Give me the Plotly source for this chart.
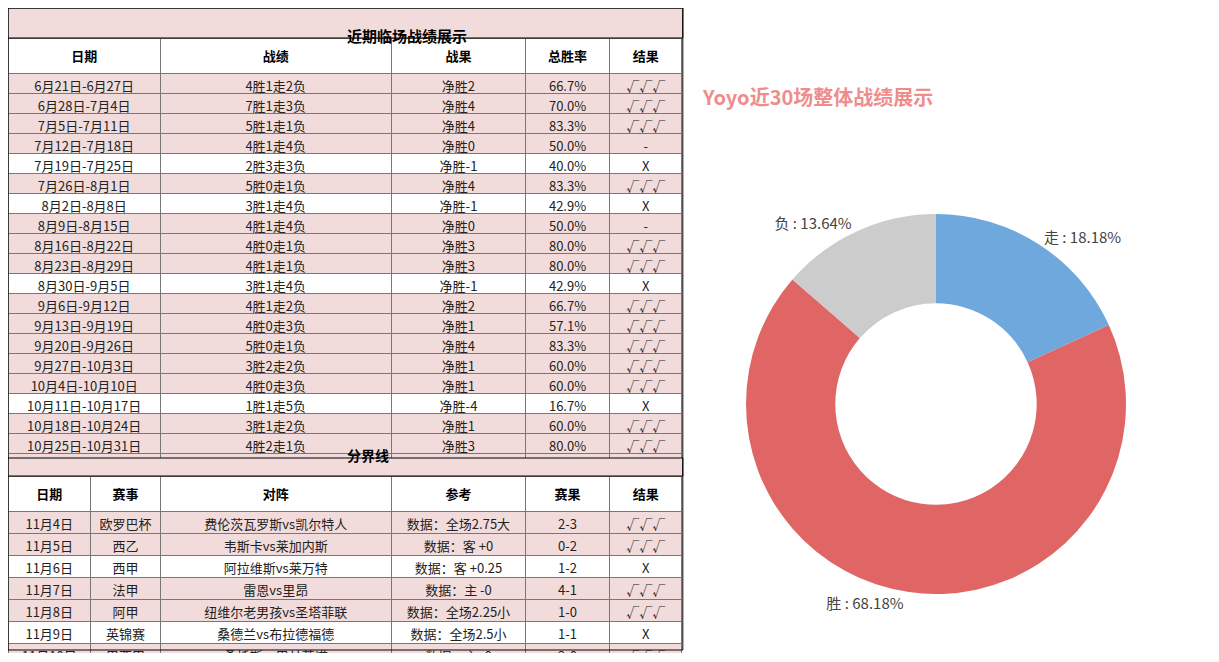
import plotly.graph_objects as go

W, H = 1211, 646
dates = ["6月21日-6月27日","6月28日-7月4日","7月5日-7月11日","7月12日-7月18日","7月19日-7月25日",
         "7月26日-8月1日","8月2日-8月8日","8月9日-8月15日","8月16日-8月22日","8月23日-8月29日",
         "8月30日-9月5日","9月6日-9月12日","9月13日-9月19日","9月20日-9月26日","9月27日-10月3日",
         "10月4日-10月10日","10月11日-10月17日","10月18日-10月24日","10月25日-10月31日","11月1日-11月7日"]
records = ["4胜1走2负","7胜1走3负","5胜1走1负","4胜1走4负","2胜3走3负","5胜0走1负","3胜1走4负","4胜1走4负",
           "4胜0走1负","4胜1走1负","3胜1走4负","4胜1走2负","4胜0走3负","5胜0走1负","3胜2走2负","4胜0走3负",
           "1胜1走5负","3胜1走2负","4胜2走1负","4胜0走3负"]
nets = ["净胜2","净胜4","净胜4","净胜0","净胜-1","净胜4","净胜-1","净胜0","净胜3","净胜3","净胜-1","净胜2",
        "净胜1","净胜4","净胜1","净胜1","净胜-4","净胜1","净胜3","净胜1"]
rates = ["66.7%","70.0%","83.3%","50.0%","40.0%","83.3%","42.9%","50.0%","80.0%","80.0%","42.9%","66.7%",
         "57.1%","83.3%","60.0%","60.0%","16.7%","60.0%","80.0%","57.1%"]
results1 = ["√√√","√√√","√√√","-","X","√√√","X","-","√√√","√√√","X","√√√","√√√","√√√","√√√","√√√","X",
            "√√√","√√√","√√√"]

m_dates = ["11月4日","11月5日","11月6日","11月7日","11月8日","11月9日","11月10日"]
m_leagues = ["欧罗巴杯","西乙","西甲","法甲","阿甲","英锦赛","巴西甲"]
m_matches = ["费伦茨瓦罗斯vs凯尔特人","韦斯卡vs莱加内斯","阿拉维斯vs莱万特","雷恩vs里昂","纽维尔老男孩vs圣塔菲联",
             "桑德兰vs布拉德福德","桑托斯vs巴甘蒂诺"]
m_refs = ["数据：全场2.75大","数据：客 +0","数据：客 +0.25","数据：主 -0","数据：全场2.25小","数据：全场2.5小","数据：主 -0"]
m_scores = ["2-3","0-2","1-2","4-1","1-0","1-1","2-0"]
m_results = ["√√√","√√√","X","√√√","√√√","X","√√√"]

pie_labels = ["走", "胜", "负"]
pie_values = [4, 15, 3]
pie_colors = ["#6FA8DC", "#E06666", "#CCCCCC"]

PINK = "#F2DCDB"
FONT = "Noto Sans CJK SC"
TX0, TX1 = 0, 681

def px(x0, x1, y0, y1):
    return dict(x=[x0 / W, x1 / W], y=[1 - y1 / H, 1 - y0 / H])

def fills(res, ncol):
    col = [("white" if r == "X" else PINK) for r in res]
    return [col] * ncol

fig = go.Figure()
fig.add_trace(go.Table(
    domain=px(TX0, TX1, 30, 451),
    columnwidth=[155, 235, 137, 85, 74],
    header=dict(values=["<b>日期</b>", "<b>战绩</b>", "<b>战果</b>", "<b>总胜率</b>", "<b>结果</b>"],
                height=20, fill_color="white", line=dict(color="#777", width=1),
                font=dict(family=FONT, size=13, color="black"), align="center"),
    cells=dict(values=[dates, records, nets, rates, results1], height=20,
               fill_color=fills(results1, 5), line=dict(color="#777", width=1),
               font=dict(family=FONT, size=13, color="#222"), align="center"),
))
fig.add_trace(go.Table(
    domain=px(TX0, TX1, 468, 646),
    columnwidth=[84, 71, 235, 137, 85, 74],
    header=dict(values=["<b>日期</b>", "<b>赛事</b>", "<b>对阵</b>", "<b>参考</b>", "<b>赛果</b>", "<b>结果</b>"],
                height=20, fill_color="white", line=dict(color="#777", width=1),
                font=dict(family=FONT, size=13, color="black"), align="center"),
    cells=dict(values=[m_dates, m_leagues, m_matches, m_refs, m_scores, m_results], height=22,
               fill_color=fills(m_results, 6), line=dict(color="#777", width=1),
               font=dict(family=FONT, size=13, color="#222"), align="center"),
))
fig.add_trace(go.Pie(
    labels=pie_labels, values=pie_values, hole=0.53, sort=False, direction="clockwise", rotation=0,
    marker=dict(colors=pie_colors, line=dict(color="white", width=0)),
    texttemplate="%{label} : %{percent:.2%}", textposition="outside",
    textfont=dict(family=FONT, size=15, color="#444"), showlegend=False,
    domain=px(700, 1173, 206, 586),
))

shapes = [
    dict(type="rect", xref="paper", yref="paper", x0=TX0 / W, x1=TX1 / W, y0=1 - 30 / H, y1=1,
         fillcolor=PINK, line=dict(color="black", width=1)),
    dict(type="rect", xref="paper", yref="paper", x0=TX0 / W, x1=TX1 / W, y0=1 - 468 / H, y1=1 - 450 / H,
         fillcolor=PINK, line=dict(color="black", width=1)),
    dict(type="rect", xref="paper", yref="paper", x0=TX0 / W, x1=TX1 / W, y0=1 - 642 / H, y1=1,
         fillcolor="rgba(0,0,0,0)", line=dict(color="black", width=1)),
]
annotations = [
    dict(text="<b>近期临场战绩展示</b>", x=(TX0 + TX1) / 2 / W, y=1 - 15 / H, xref="paper", yref="paper",
         showarrow=False, font=dict(family=FONT, size=15, color="black")),
    dict(text="<b>分界线</b>", x=(TX0 + TX1) / 2 / W, y=1 - 459 / H, xref="paper", yref="paper",
         showarrow=False, font=dict(family=FONT, size=14, color="black")),
    dict(text="<b>Yoyo近30场整体战绩展示</b>", x=936 / W, y=1 - 72 / H, xref="paper", yref="paper",
         showarrow=False, font=dict(family=FONT, size=20, color="#F08C8C")),
]
fig.update_layout(width=W, height=H, margin=dict(l=0, r=0, t=0, b=0), paper_bgcolor="white",
                  shapes=shapes, annotations=annotations)
fig.write_html("out.html")
